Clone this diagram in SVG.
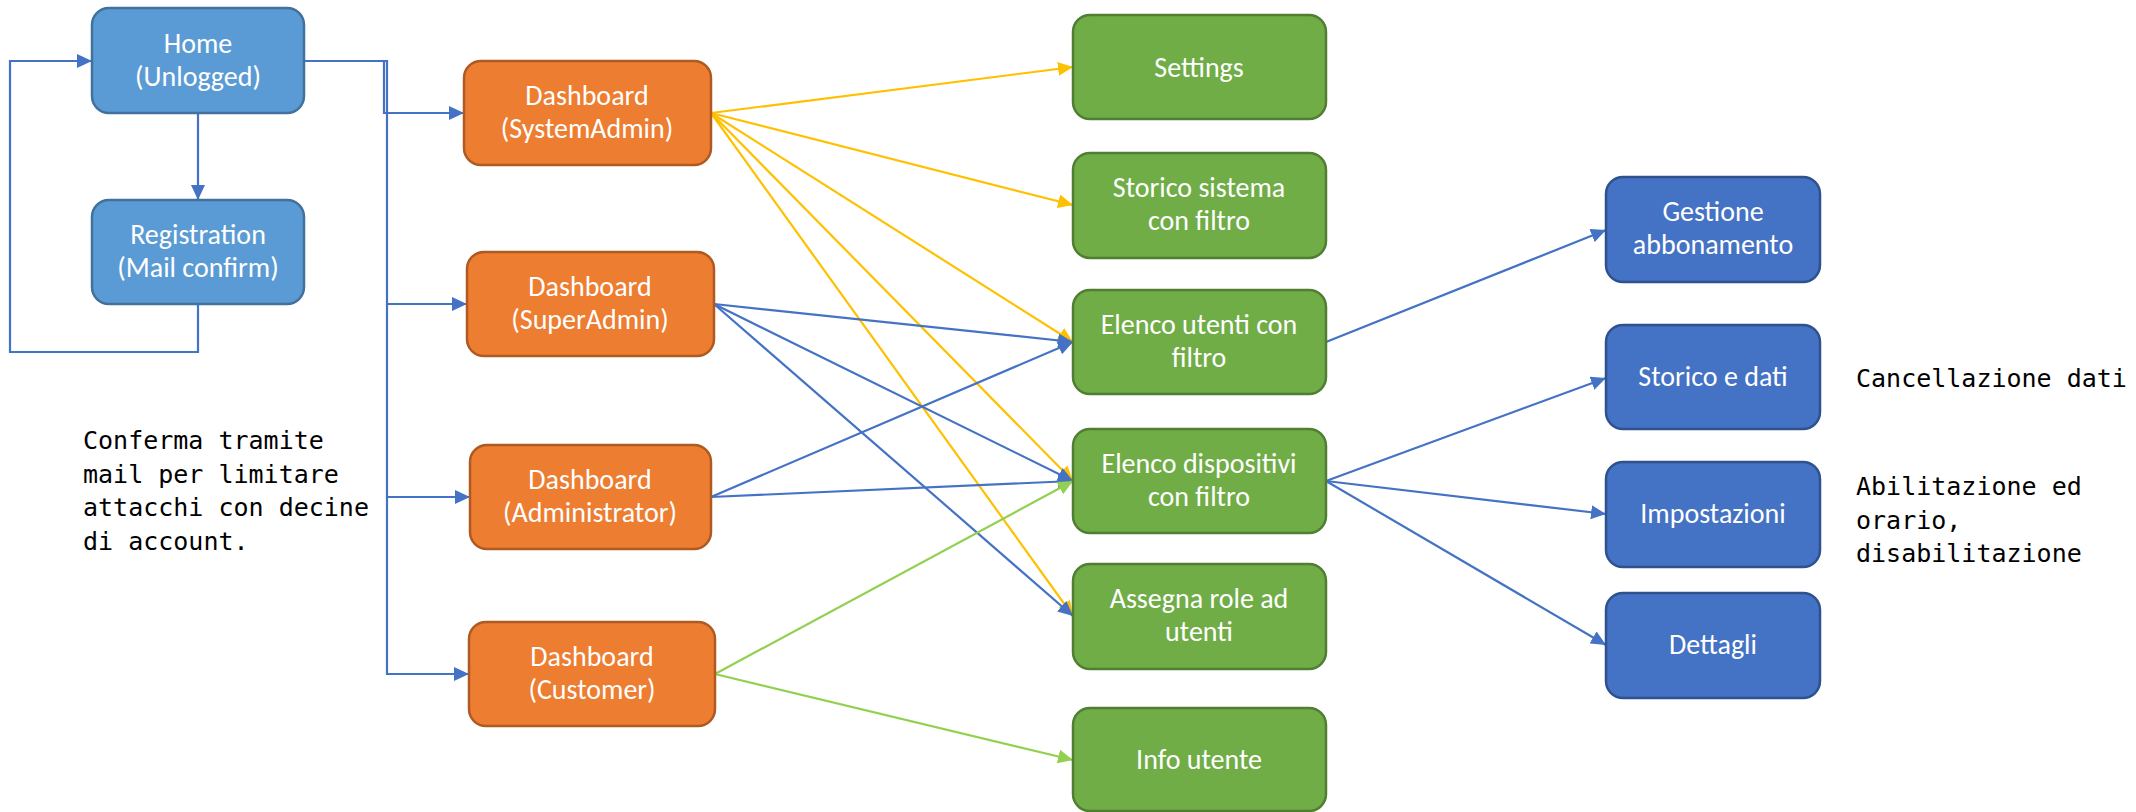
<svg xmlns="http://www.w3.org/2000/svg" width="2136" height="812" viewBox="0 0 2136 812">
  <defs>
    <marker id="ah-blue" markerUnits="userSpaceOnUse" markerWidth="16" markerHeight="14" refX="15" refY="7" orient="auto">
      <path d="M0,0 L15,7 L0,14 z" fill="#4472C4"/>
    </marker>
    <marker id="ah-yellow" markerUnits="userSpaceOnUse" markerWidth="16" markerHeight="14" refX="15" refY="7" orient="auto">
      <path d="M0,0 L15,7 L0,14 z" fill="#FFC000"/>
    </marker>
    <marker id="ah-green" markerUnits="userSpaceOnUse" markerWidth="16" markerHeight="14" refX="15" refY="7" orient="auto">
      <path d="M0,0 L15,7 L0,14 z" fill="#92D050"/>
    </marker>
  </defs>
  <style>
    .node rect { stroke-width: 2.5; }
    .light rect { fill: #5B9BD5; stroke: #41719C; }
    .orange rect { fill: #ED7D31; stroke: #AE5A21; }
    .green rect { fill: #70AD47; stroke: #507E32; }
    .dark rect { fill: #4472C4; stroke: #2F528F; }
    .node text { fill: #FFFFFF; font-family: Carlito, Lato, "Open Sans", sans-serif; font-size: 28px; text-anchor: middle; }
    .note { fill: #000000; font-family: "DejaVu Sans Mono", "Liberation Mono", monospace; font-size: 25px; }
    .conn path { fill: none; stroke-width: 2.2; }
    .b { stroke: #4472C4; marker-end: url(#ah-blue); }
    .y { stroke: #FFC000; marker-end: url(#ah-yellow); }
    .g { stroke: #92D050; marker-end: url(#ah-green); }
  </style>

  <!-- connectors -->
  <g id="connectors" class="conn">
    <!-- login flow -->
    <path class="b" d="M198,113 V200"/>
    <path class="b" d="M198,304 V352 H10 V61 H92"/>
    <path class="b" d="M304,61 H384 V113 H464"/>
    <path class="b" d="M304,61 H387 V304 H467"/>
    <path class="b" d="M387,304 V497 H470"/>
    <path class="b" d="M387,497 V674 H469"/>
    <!-- SystemAdmin -->
    <path class="y" d="M711,113 L1073,67"/>
    <path class="y" d="M711,113 L1073,205"/>
    <path class="y" d="M711,113 L1073,342"/>
    <path class="y" d="M711,113 L1073,481"/>
    <path class="y" d="M711,113 L1073,616"/>
    <!-- SuperAdmin -->
    <path class="b" d="M714,304 L1073,342"/>
    <path class="b" d="M714,304 L1073,481"/>
    <path class="b" d="M714,304 L1073,616"/>
    <!-- Administrator -->
    <path class="b" d="M711,497 L1073,342"/>
    <path class="b" d="M711,497 L1073,481"/>
    <!-- Customer -->
    <path class="g" d="M715,674 L1073,481"/>
    <path class="g" d="M715,674 L1073,760"/>
    <!-- detail pages -->
    <path class="b" d="M1326,342 L1606,230"/>
    <path class="b" d="M1326,481 L1606,378"/>
    <path class="b" d="M1326,481 L1606,514"/>
    <path class="b" d="M1326,481 L1606,645"/>
  </g>

  <!-- entry pages -->
  <g id="home" class="node light">
    <rect x="92" y="8" width="212" height="105" rx="17"/>
    <text x="198" y="53">Home</text>
    <text x="198" y="86">(Unlogged)</text>
  </g>
  <g id="registration" class="node light">
    <rect x="92" y="200" width="212" height="104" rx="17"/>
    <text x="198" y="244">Registration</text>
    <text x="198" y="277">(Mail confirm)</text>
  </g>

  <!-- dashboards -->
  <g id="dash-systemadmin" class="node orange">
    <rect x="464" y="61" width="247" height="104" rx="17"/>
    <text x="587" y="105">Dashboard</text>
    <text x="587" y="138">(SystemAdmin)</text>
  </g>
  <g id="dash-superadmin" class="node orange">
    <rect x="467" y="252" width="247" height="104" rx="17"/>
    <text x="590" y="296">Dashboard</text>
    <text x="590" y="329">(SuperAdmin)</text>
  </g>
  <g id="dash-administrator" class="node orange">
    <rect x="470" y="445" width="241" height="104" rx="17"/>
    <text x="590" y="489">Dashboard</text>
    <text x="590" y="522">(Administrator)</text>
  </g>
  <g id="dash-customer" class="node orange">
    <rect x="469" y="622" width="246" height="104" rx="17"/>
    <text x="592" y="666">Dashboard</text>
    <text x="592" y="699">(Customer)</text>
  </g>

  <!-- functions -->
  <g id="settings" class="node green">
    <rect x="1073" y="15" width="253" height="104" rx="17"/>
    <text x="1199" y="77">Settings</text>
  </g>
  <g id="storico-sistema" class="node green">
    <rect x="1073" y="153" width="253" height="105" rx="17"/>
    <text x="1199" y="197">Storico sistema</text>
    <text x="1199" y="230">con filtro</text>
  </g>
  <g id="elenco-utenti" class="node green">
    <rect x="1073" y="290" width="253" height="104" rx="17"/>
    <text x="1199" y="334">Elenco utenti con</text>
    <text x="1199" y="367">filtro</text>
  </g>
  <g id="elenco-dispositivi" class="node green">
    <rect x="1073" y="429" width="253" height="104" rx="17"/>
    <text x="1199" y="473">Elenco dispositivi</text>
    <text x="1199" y="506">con filtro</text>
  </g>
  <g id="assegna-role" class="node green">
    <rect x="1073" y="564" width="253" height="105" rx="17"/>
    <text x="1199" y="608">Assegna role ad</text>
    <text x="1199" y="641">utenti</text>
  </g>
  <g id="info-utente" class="node green">
    <rect x="1073" y="708" width="253" height="103" rx="17"/>
    <text x="1199" y="769">Info utente</text>
  </g>

  <!-- details -->
  <g id="gestione-abbonamento" class="node dark">
    <rect x="1606" y="177" width="214" height="105" rx="17"/>
    <text x="1713" y="221">Gestione</text>
    <text x="1713" y="254">abbonamento</text>
  </g>
  <g id="storico-dati" class="node dark">
    <rect x="1606" y="325" width="214" height="104" rx="17"/>
    <text x="1713" y="386">Storico e dati</text>
  </g>
  <g id="impostazioni" class="node dark">
    <rect x="1606" y="462" width="214" height="105" rx="17"/>
    <text x="1713" y="523">Impostazioni</text>
  </g>
  <g id="dettagli" class="node dark">
    <rect x="1606" y="593" width="214" height="105" rx="17"/>
    <text x="1713" y="654">Dettagli</text>
  </g>

  <!-- notes -->
  <g id="note-registration">
    <text class="note" x="83" y="449">Conferma tramite</text>
    <text class="note" x="83" y="483">mail per limitare</text>
    <text class="note" x="83" y="516">attacchi con decine</text>
    <text class="note" x="83" y="550">di account.</text>
  </g>
  <g id="note-storico">
    <text class="note" x="1856" y="387">Cancellazione dati</text>
  </g>
  <g id="note-impostazioni">
    <text class="note" x="1856" y="495">Abilitazione ed</text>
    <text class="note" x="1856" y="529">orario,</text>
    <text class="note" x="1856" y="562">disabilitazione</text>
  </g>
</svg>
